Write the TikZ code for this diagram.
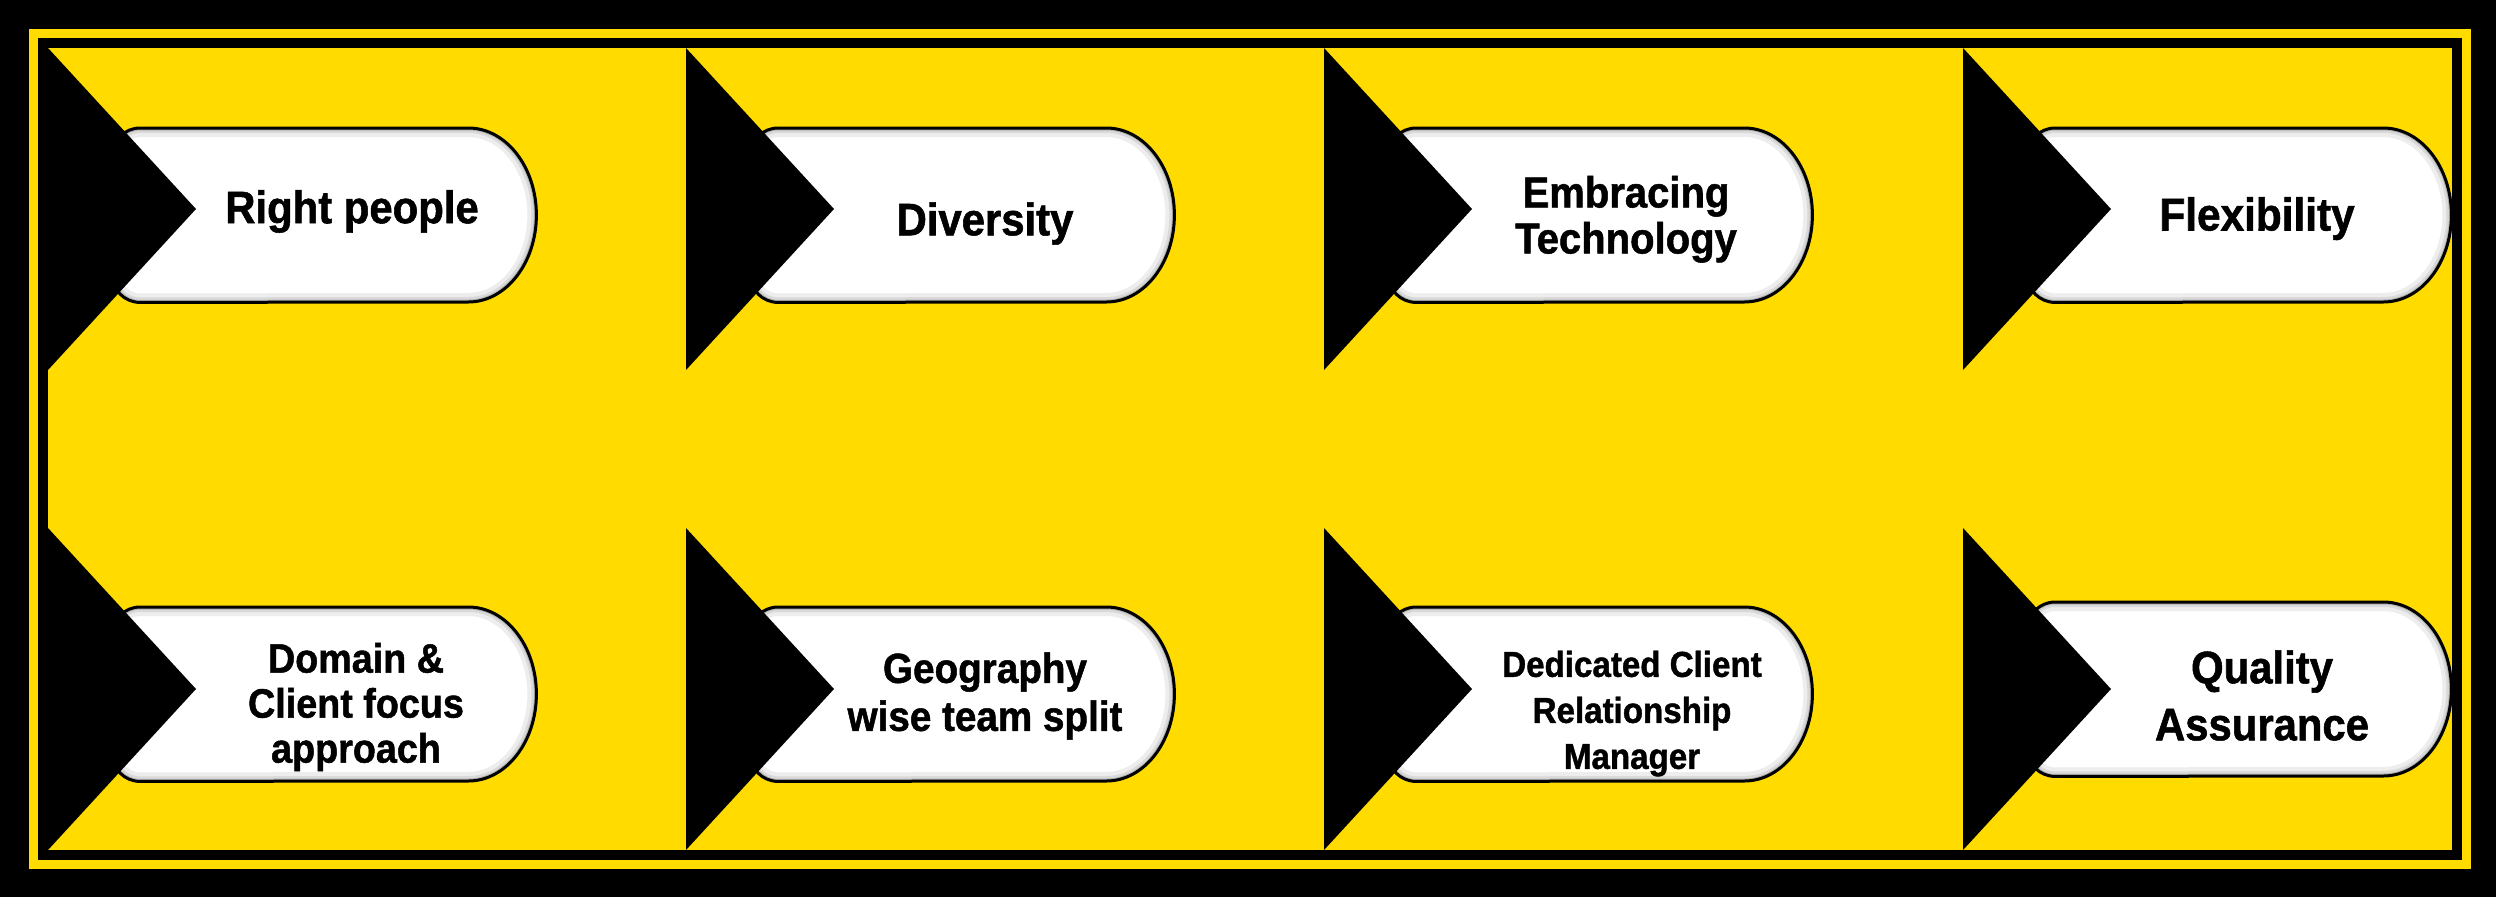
\documentclass[tikz,border=0pt]{standalone}
\usepackage{fontspec}
\newfontfamily\lblfont{Liberation Sans}[FakeStretch=0.92,FakeBold=1.2]
\definecolor{bgyellow}{RGB}{255,219,0}
\tikzset{
  lbl/.style={inner sep=0pt, align=center, text=black},
  pillbox/.style={draw=none, inner sep=0pt, minimum width=424pt, minimum height=174pt, anchor=north west},
  pillpath/.style={insert path={([xshift=28pt]#1.north west) -- ([xshift=-68pt]#1.north east)
      arc[start angle=-90,end angle=90,x radius=68,y radius=87]
      -- ([xshift=28pt]#1.south west) arc[start angle=90,end angle=180,radius=28]
      -- ([yshift=-28pt]#1.north west) arc[start angle=180,end angle=270,radius=28] -- cycle}},
  tri/.style={fill=black}
}
\newcommand\drawpill[1]{%
  \fill[white, pillpath=#1];
  \begin{scope}
    \clip[pillpath=#1];
    \draw[line width=18pt, black!7, pillpath=#1];
    \draw[line width=10pt, black!15, pillpath=#1];
    \draw[line width=5pt, black!30, pillpath=#1];
  \end{scope}
  \draw[line width=3pt, black, pillpath=#1];
}
\begin{document}
\begin{tikzpicture}[x=1pt,y=-1pt]
\useasboundingbox (0,0) rectangle (2496,897);
\fill[black] (0,0) rectangle (2496,897);
\fill[bgyellow] (29,29) rectangle (2471,869);
\fill[black] (38,38) rectangle (2462,860);
\fill[bgyellow] (48,48) rectangle (2452,850);

% pills
\node[pillbox] (p1) at (112,128) {};
\node[pillbox] (p2) at (750,128) {};
\node[pillbox] (p3) at (1388,128) {};
\node[pillbox] (p4) at (2027,128) {};
\node[pillbox] (p5) at (112,607) {};
\node[pillbox] (p6) at (750,607) {};
\node[pillbox] (p7) at (1388,607) {};
\node[pillbox] (p8) at (2027,602) {};
\foreach \i in {1,...,8} {\drawpill{p\i}}

% triangles
\foreach \bx in {48,686,1324,1963} {
  \foreach \ty in {48,528} {
    \fill[tri] (\bx,\ty) -- (\bx+148,\ty+161) -- (\bx,\ty+322) -- cycle;
  }
}

% labels
\node[lbl, font={\lblfont\bfseries\fontsize{45.5}{50}\selectfont}] (t1) at (352,211.5) {Right people};
\node[lbl, font={\lblfont\bfseries\fontsize{45.5}{50}\selectfont}] (t2) at (985,223.5) {Diversity};
\node[lbl, font={\lblfont\bfseries\fontsize{43.5}{46}\selectfont}] (t3) at (1626,219.3) {Embracing\\Technology};
\node[lbl, font={\lblfont\bfseries\fontsize{46}{50}\selectfont}] (t4) at (2257,218.6) {Flexibility};
\node[lbl, font={\lblfont\bfseries\fontsize{41}{45}\selectfont}] (t5) at (356,707) {Domain \&\\Client focus\\approach};
\node[lbl, font={\lblfont\bfseries\fontsize{42}{48}\selectfont}] (t6) at (985,696) {Geography\\wise team split};
\node[lbl, font={\lblfont\bfseries\fontsize{36}{46}\selectfont}] (t7) at (1632,713.6) {Dedicated Client\\Relationship\\Manager};
\node[lbl, font={\lblfont\bfseries\fontsize{45.5}{57}\selectfont}] (t8) at (2262,695.5) {Quality\\Assurance};
\end{tikzpicture}
\end{document}
